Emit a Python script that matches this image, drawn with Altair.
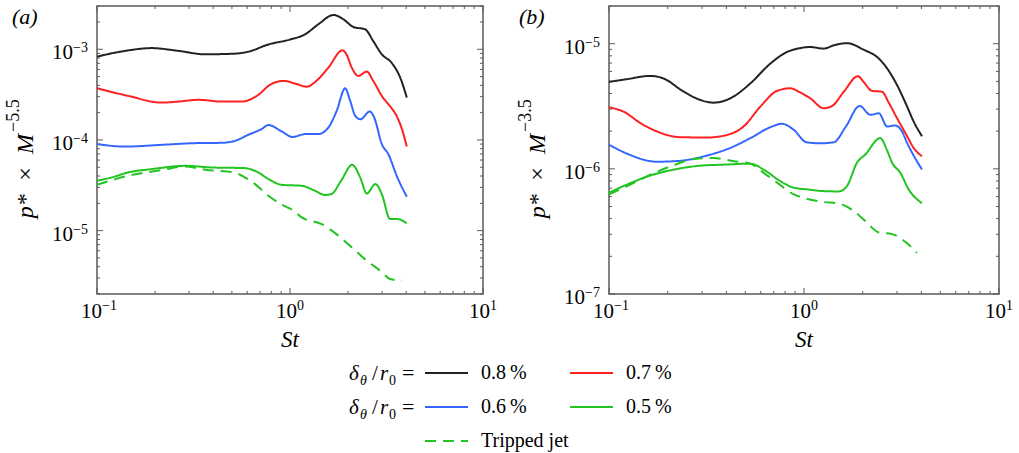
import altair as alt
import pandas as pd

FONT = "Liberation Serif, Times New Roman, DejaVu Serif, serif"
FRAME = "#5a5a5a"

SERIES = ["0.8\u2009%", "0.7\u2009%", "0.6\u2009%", "0.5\u2009%", "Tripped jet"]
COLORS = ["#222222", "#ff2020", "#3366ff", "#22c422", "#22c422"]
DASHES = [[1, 0], [1, 0], [1, 0], [1, 0], [11, 7]]

# ---------------- panel (a) ----------------
A_BLACK_ST = [0.1, 0.14, 0.192, 0.264, 0.363, 0.519, 0.608, 0.773, 1.0, 1.196, 1.40, 1.68, 1.89, 2.13, 2.45, 2.70, 2.99, 3.36, 3.72, 4.03]
A_BLACK_P = [8.3e-4, 9.6e-4, 1.03e-3, 9.6e-4, 8.8e-4, 8.95e-4, 9.4e-4, 1.13e-3, 1.28e-3, 1.46e-3, 1.88e-3, 2.39e-3, 2.14e-3, 1.76e-3, 1.66e-3, 1.23e-3, 8.8e-4, 7.1e-4, 4.9e-4, 2.93e-4]

A_RED_ST = [0.1, 0.145, 0.216, 0.264, 0.335, 0.443, 0.562, 0.685, 0.787, 0.923, 1.06, 1.22, 1.37, 1.58, 1.87, 1.96, 2.09, 2.26, 2.50, 2.70, 2.99, 3.36, 3.49, 3.80, 4.03]
A_RED_P = [3.71e-4, 3.06e-4, 2.58e-4, 2.65e-4, 2.77e-4, 2.65e-4, 2.65e-4, 3.14e-4, 4.05e-4, 4.48e-4, 4.2e-4, 3.87e-4, 4.48e-4, 6.27e-4, 9.75e-4, 8.8e-4, 6.27e-4, 5.08e-4, 5.67e-4, 4.48e-4, 3.06e-4, 2.24e-4, 2.0e-4, 1.32e-4, 8.45e-5]

A_BLUE_ST = [0.1, 0.14, 0.216, 0.322, 0.443, 0.519, 0.608, 0.713, 0.773, 0.906, 1.03, 1.20, 1.40, 1.58, 1.745, 1.93, 2.05, 2.18, 2.32, 2.59, 2.73, 2.99, 3.23, 3.6, 4.03]
A_BLUE_P = [9.0e-5, 8.45e-5, 8.83e-5, 9.22e-5, 9.3e-5, 9.78e-5, 1.14e-4, 1.32e-4, 1.46e-4, 1.24e-4, 1.08e-4, 1.16e-4, 1.16e-4, 1.37e-4, 2.09e-4, 3.71e-4, 2.7e-4, 1.84e-4, 1.69e-4, 2.06e-4, 1.77e-4, 9.0e-5, 6.98e-5, 3.86e-5, 2.36e-5]

A_GREEN_ST = [0.1, 0.119, 0.145, 0.192, 0.286, 0.393, 0.58, 0.685, 0.773, 0.906, 1.15, 1.35, 1.52, 1.64, 1.84, 2.10, 2.31, 2.50, 2.77, 2.99, 3.30, 3.60, 4.03]
A_GREEN_P = [3.55e-5, 3.86e-5, 4.38e-5, 4.77e-5, 5.18e-5, 4.97e-5, 4.89e-5, 4.38e-5, 3.7e-5, 3.2e-5, 3.12e-5, 2.75e-5, 2.47e-5, 2.53e-5, 3.55e-5, 5.32e-5, 3.86e-5, 2.57e-5, 3.26e-5, 2.53e-5, 1.34e-5, 1.34e-5, 1.2e-5]

A_TRIP_ST = [0.1, 0.145, 0.216, 0.286, 0.363, 0.519, 0.562, 0.659, 0.773, 0.906, 1.06, 1.15, 1.46, 1.78, 2.09, 2.50, 2.93, 3.30, 3.80]
A_TRIP_P = [3.2e-5, 4.03e-5, 4.65e-5, 5.09e-5, 4.7e-5, 4.38e-5, 4.03e-5, 3.26e-5, 2.42e-5, 1.93e-5, 1.63e-5, 1.40e-5, 1.18e-5, 8.8e-6, 6.53e-6, 4.66e-6, 3.62e-6, 2.93e-6, 2.8e-6]

# ---------------- panel (b) ----------------
B_BLACK_ST = [0.1, 0.124, 0.163, 0.19, 0.242, 0.294, 0.344, 0.419, 0.531, 0.672, 0.818, 0.92, 1.077, 1.26, 1.42, 1.66, 2.02, 2.42, 2.67, 3.0, 3.38, 3.65, 4.03]
B_BLACK_P = [4.95e-6, 5.21e-6, 5.53e-6, 5.28e-6, 4.13e-6, 3.55e-6, 3.38e-6, 3.66e-6, 4.82e-6, 6.93e-6, 8.58e-6, 9.1e-6, 9.4e-6, 9.13e-6, 9.7e-6, 1.01e-5, 8.96e-6, 7.6e-6, 6.33e-6, 4.67e-6, 3.14e-6, 2.39e-6, 1.82e-6]

B_RED_ST = [0.1, 0.119, 0.145, 0.176, 0.232, 0.319, 0.419, 0.49, 0.597, 0.728, 0.851, 0.95, 1.077, 1.26, 1.39, 1.60, 1.89, 2.02, 2.23, 2.51, 2.73, 3.0, 3.38, 3.65, 4.03]
B_RED_P = [3.1e-6, 2.86e-6, 2.32e-6, 1.99e-6, 1.79e-6, 1.78e-6, 1.9e-6, 2.18e-6, 3.14e-6, 4.2e-6, 4.4e-6, 4.1e-6, 3.66e-6, 3.05e-6, 3.17e-6, 4.13e-6, 5.5e-6, 4.95e-6, 4.2e-6, 4.13e-6, 3.34e-6, 2.54e-6, 1.82e-6, 1.47e-6, 1.26e-6]

B_BLUE_ST = [0.1, 0.124, 0.176, 0.232, 0.319, 0.419, 0.531, 0.672, 0.771, 0.886, 1.03, 1.21, 1.42, 1.64, 1.93, 2.19, 2.42, 2.67, 2.94, 3.18, 3.38, 4.03]
B_BLUE_P = [1.56e-6, 1.32e-6, 1.14e-6, 1.16e-6, 1.28e-6, 1.47e-6, 1.76e-6, 2.15e-6, 2.29e-6, 2.05e-6, 1.63e-6, 1.6e-6, 1.63e-6, 2.18e-6, 3.18e-6, 2.7e-6, 2.78e-6, 2.18e-6, 2.22e-6, 1.99e-6, 1.61e-6, 9.86e-7]

B_GREEN_ST = [0.1, 0.124, 0.163, 0.215, 0.294, 0.387, 0.531, 0.621, 0.755, 0.886, 1.03, 1.26, 1.506, 1.66, 1.87, 2.06, 2.46, 2.66, 2.83, 3.12, 3.44, 4.03]
B_GREEN_P = [6.45e-7, 7.5e-7, 8.85e-7, 9.86e-7, 1.06e-6, 1.08e-6, 1.10e-6, 9.86e-7, 7.98e-7, 7.07e-7, 6.86e-7, 6.64e-7, 6.6e-7, 7.28e-7, 1.12e-6, 1.30e-6, 1.76e-6, 1.42e-6, 1.12e-6, 9.29e-7, 6.86e-7, 5.31e-7]

B_TRIP_ST = [0.1, 0.124, 0.163, 0.215, 0.272, 0.344, 0.436, 0.531, 0.621, 0.728, 0.886, 1.03, 1.26, 1.49, 1.77, 2.06, 2.42, 2.83, 3.33, 3.79]
B_TRIP_P = [6.25e-7, 7.28e-7, 9.0e-7, 1.07e-6, 1.2e-6, 1.22e-6, 1.15e-6, 1.10e-6, 9.29e-7, 7.75e-7, 6.25e-7, 5.78e-7, 5.43e-7, 5.31e-7, 4.69e-7, 3.84e-7, 3.1e-7, 3.01e-7, 2.59e-7, 2.13e-7]

# ---------------- axes text ----------------
X_DOMAIN = [0.1, 10]
X_LABEL_VALUES = [0.1, 1, 10]
X_LABEL_EXPS = ["\u22121", "0", "1"]
A_Y_DOMAIN = [2e-6, 3e-3]
A_Y_LABEL_VALUES = [1e-5, 1e-4, 1e-3]
A_Y_LABEL_EXPS = ["\u22125", "\u22124", "\u22123"]
B_Y_DOMAIN = [1e-7, 2e-5]
B_Y_LABEL_VALUES = [1e-7, 1e-6, 1e-5]
B_Y_LABEL_EXPS = ["\u22127", "\u22126", "\u22125"]

W_A, W_B, H = 386, 390, 288

LEG = alt.Legend(
    orient="none", legendX=327, legendY=352, columns=2, direction="horizontal",
    symbolType="stroke", symbolSize=1849, symbolStrokeWidth=2,
    labelFont=FONT, labelFontSize=20, labelColor="black", labelOffset=12,
    labelLimit=0, columnPadding=0, rowPadding=4, clipHeight=30, padding=0,
    title=None,
)


def long_frame(curves):
    rows = []
    for name, (st, p) in zip(SERIES, curves):
        for s, v in zip(st, p):
            rows.append({"St": s, "p": v, "series": name})
    return pd.DataFrame(rows)


def decade_ticks(lo, hi):
    major, minor = [], []
    for e in range(-8, 2):
        for m in range(1, 10):
            v = m * 10.0 ** e
            if lo * 0.999 <= v <= hi * 1.001:
                (major if m == 1 else minor).append(v)
    return major, minor


DUMMY = pd.DataFrame({"k": [0]})


def txt(text, x, y, size, style="normal", angle=0, align="left"):
    props = dict(text=text, font=FONT, fontSize=size, fontStyle=style,
                 align=align, baseline="alphabetic", color="black")
    if angle:
        props["angle"] = angle
    return alt.Chart(DUMMY).mark_text(**props).encode(x=alt.value(x), y=alt.value(y))


def panel(curves, width, ydom, ylab_vals, ylab_exps, ytitle_exp, letter, letter_x, extra):
    xs = alt.Scale(type="log", domain=X_DOMAIN, nice=False)
    ys = alt.Scale(type="log", domain=ydom, nice=False)

    def X(f):
        return alt.X(f, type="quantitative", scale=xs, axis=None)

    def Y(f):
        return alt.Y(f, type="quantitative", scale=ys, axis=None)

    layers = []
    xmaj, xmin = decade_ticks(*X_DOMAIN)
    ymaj, ymin = decade_ticks(*ydom)
    for vals, size in ((xmaj, 6), (xmin, 3)):
        base = alt.Chart(pd.DataFrame({"v": vals})).mark_rule(color=FRAME, strokeWidth=1)
        layers.append(base.encode(x=X("v"), y=alt.value(H), y2=alt.value(H - size)))
        layers.append(base.encode(x=X("v"), y=alt.value(0), y2=alt.value(size)))
    for vals, size in ((ymaj, 6), (ymin, 3)):
        base = alt.Chart(pd.DataFrame({"v": vals})).mark_rule(color=FRAME, strokeWidth=1)
        layers.append(base.encode(y=Y("v"), x=alt.value(0), x2=alt.value(size)))
        layers.append(base.encode(y=Y("v"), x=alt.value(width), x2=alt.value(width - size)))

    df = long_frame(curves)
    layers.append(
        alt.Chart(df).mark_line(strokeWidth=2, interpolate="monotone").encode(
            x=X("St"), y=Y("p"),
            color=alt.Color("series:N", scale=alt.Scale(domain=SERIES, range=COLORS), legend=LEG),
            strokeDash=alt.StrokeDash("series:N", scale=alt.Scale(domain=SERIES, range=DASHES), legend=LEG),
        )
    )

    # x tick labels
    xl = pd.DataFrame({"v": X_LABEL_VALUES, "e": X_LABEL_EXPS})
    neg = xl["e"].str.startswith("\u2212")
    for sub, dx in ((xl[neg], 5), (xl[~neg], 7)):
        c = alt.Chart(sub)
        layers.append(c.mark_text(text="10", font=FONT, fontSize=21, align="right",
                                  baseline="alphabetic", dx=dx, color="black")
                      .encode(x=X("v"), y=alt.value(H + 24)))
        layers.append(c.mark_text(font=FONT, fontSize=14, align="left",
                                  baseline="alphabetic", dx=dx, color="black")
                      .encode(x=X("v"), y=alt.value(H + 16), text="e:N"))

    # y tick labels
    yl = alt.Chart(pd.DataFrame({"v": ylab_vals, "e": ylab_exps}))
    layers.append(yl.mark_text(text="10", font=FONT, fontSize=21, align="right",
                               baseline="alphabetic", dy=10, color="black")
                  .encode(y=Y("v"), x=alt.value(-24)))
    layers.append(yl.mark_text(font=FONT, fontSize=14, align="right",
                               baseline="alphabetic", dy=3, color="black")
                  .encode(y=Y("v"), x=alt.value(-9), text="e:N"))

    # titles
    layers.append(txt("St", width / 2, H + 53, 23, "italic", align="center"))
    layers.append(txt("p*\u2002\u00d7\u2002M", -64, 128, 24, "italic", angle=270, align="right"))
    layers.append(txt(ytitle_exp, -78, 126, 18, angle=270, align="left"))
    layers.append(txt(letter, letter_x, 18, 22, "italic"))
    layers.extend(extra)

    return alt.layer(*layers).properties(width=width, height=H)


def prefix(y):
    return [
        txt("\u03b4", 252, y, 21, "italic"),
        txt("\u03b8", 263, y + 5, 14, "italic"),
        txt("/", 275, y, 21),
        txt("r", 283, y, 21, "italic"),
        txt("0", 292, y + 5, 14),
        txt("=", 305, y, 22),
    ]


panel_a = panel(
    [(A_BLACK_ST, A_BLACK_P), (A_RED_ST, A_RED_P), (A_BLUE_ST, A_BLUE_P),
     (A_GREEN_ST, A_GREEN_P), (A_TRIP_ST, A_TRIP_P)],
    W_A, A_Y_DOMAIN, A_Y_LABEL_VALUES, A_Y_LABEL_EXPS, "\u22125.5", "(a)", -85,
    prefix(374) + prefix(408),
)
panel_b = panel(
    [(B_BLACK_ST, B_BLACK_P), (B_RED_ST, B_RED_P), (B_BLUE_ST, B_BLUE_P),
     (B_GREEN_ST, B_GREEN_P), (B_TRIP_ST, B_TRIP_P)],
    W_B, B_Y_DOMAIN, B_Y_LABEL_VALUES, B_Y_LABEL_EXPS, "\u22123.5", "(b)", -90,
    [],
)

chart = (
    alt.hconcat(panel_a, panel_b, spacing=18)
    .resolve_scale(x="independent", y="independent", color="shared", strokeDash="shared")
    .properties(padding={"left": 4, "top": 4, "right": 0, "bottom": 0}, background="white")
    .configure_view(stroke=FRAME, strokeWidth=1.5)
)

chart.save("out.html", embed_options={"renderer": "svg", "actions": False})
